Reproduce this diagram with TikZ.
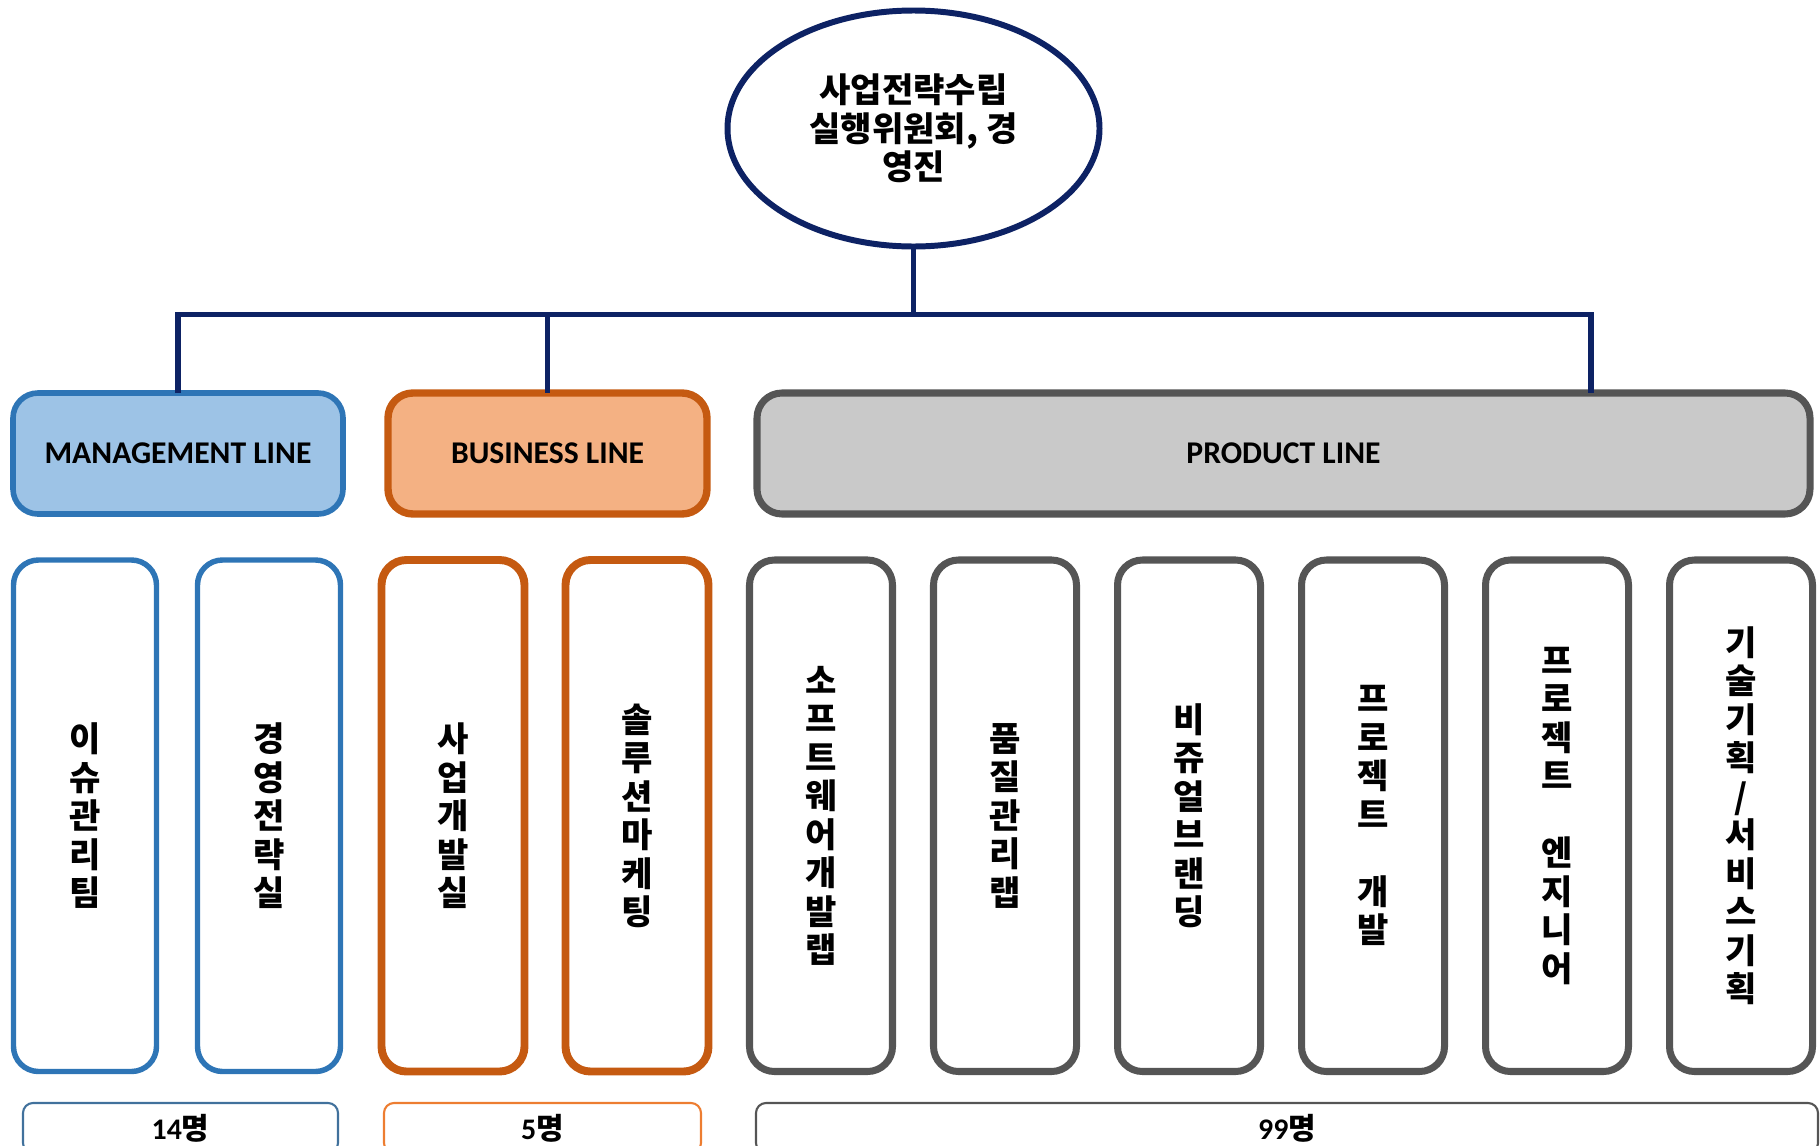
\documentclass[tikz,border=0pt]{standalone}
\usepackage{fontspec}
\setmainfont{Carlito}
\newfontfamily\ko{Noto Sans CJK KR}
\usetikzlibrary{shapes, positioning}
\definecolor{navy}{HTML}{0D2264}
\definecolor{mgmtblue}{HTML}{2E75B6}
\definecolor{mgmtfill}{HTML}{9DC3E6}
\definecolor{bizorange}{HTML}{C55A11}
\definecolor{bizfill}{HTML}{F4B183}
\definecolor{prodgray}{HTML}{555555}
\definecolor{prodfill}{HTML}{C9C9C9}
\definecolor{mgmtline}{HTML}{41719C}
\definecolor{bizline}{HTML}{ED7D31}
\tikzstyle{committee} = [ellipse, minimum width=7.44cm, minimum height=4.72cm, inner sep=0pt, draw=navy, line width=3.4pt, fill=white, align=center, font=\ko\bfseries\fontsize{19.4}{21.8}\selectfont]
\tikzstyle{head} = [rectangle, rounded corners=0.5cm, minimum height=2.42cm, outer sep=0pt, font=\bfseries\fontsize{18}{21}\selectfont]
\tikzstyle{mgmthead} = [head, minimum width=6.6cm, draw=mgmtblue, fill=mgmtfill, line width=3.2pt]
\tikzstyle{bizhead} = [head, minimum width=6.38cm, draw=bizorange, fill=bizfill, line width=4.2pt]
\tikzstyle{prodhead} = [head, minimum width=21.06cm, draw=prodgray, fill=prodfill, line width=4pt]
\tikzstyle{team} = [rectangle, rounded corners=0.5cm, minimum width=2.86cm, minimum height=10.23cm, outer sep=0pt, fill=white, align=center, font=\ko\bfseries\fontsize{19.4}{21.9}\selectfont]
\tikzstyle{mgmtteam} = [team, draw=mgmtblue, line width=3.1pt]
\tikzstyle{bizteam} = [team, draw=bizorange, line width=4.5pt]
\tikzstyle{prodteam} = [team, draw=prodgray, line width=4pt]
\tikzstyle{headcount} = [rectangle, rounded corners=0.2cm, minimum height=1cm, outer sep=0pt, line width=1.2pt, font=\bfseries\fontsize{17}{19}\selectfont]
\tikzstyle{wire} = [draw=navy, line width=3.4pt]

\begin{document}
\begin{tikzpicture}
\clip (0,0) rectangle (36.4,-22.92);
\node (board) [committee] at (18.27,-2.57) {사업전략수립\\실행위원회, 경\\영진};
\node (mgmt) [mgmthead] at (3.56,-9.07) {MANAGEMENT LINE};
\node (biz) [bizhead, right=0.9cm of mgmt] {BUSINESS LINE};
\node (prod) [prodhead, right=1cm of biz] {PRODUCT LINE};
\coordinate (hub) at (18.27,-6.29);
\coordinate (pdrop) at (31.82,-6.29);
\draw[wire] (board.south) -- (hub);
\draw[wire] (mgmt.north) -- (mgmt.north |- hub) -- (pdrop) -- (prod.north -| pdrop);
\draw[wire] (biz.north) -- (biz.north |- hub);
\node (issue) [mgmtteam] at (1.70,-16.315) {이\\슈\\관\\리\\팀};
\node (strategy) [mgmtteam, right=0.82cm of issue] {경\\영\\전\\략\\실};
\node (bizdev) [bizteam, right=0.82cm of strategy] {사\\업\\개\\발\\실};
\node (marketing) [bizteam, right=0.82cm of bizdev] {솔\\루\\션\\마\\케\\팅};
\node (swlab) [prodteam, right=0.82cm of marketing] {소\\프\\트\\웨\\어\\개\\발\\랩};
\node (qalab) [prodteam, right=0.82cm of swlab] {품\\질\\관\\리\\랩};
\node (brand) [prodteam, right=0.82cm of qalab] {비\\쥬\\얼\\브\\랜\\딩};
\node (projdev) [prodteam, right=0.82cm of brand] {프\\로\\젝\\트\\~\\개\\발};
\node (projeng) [prodteam, right=0.82cm of projdev] {프\\로\\젝\\트\\~\\엔\\지\\니\\어};
\node (service) [prodteam, right=0.82cm of projeng] {기\\술\\기\\획\\/\\서\\비\\스\\기\\획};
\node (mcount) [headcount, draw=mgmtline, minimum width=6.3cm] at (3.61,-22.56) {14{\ko 명}};
\node (bcount) [headcount, draw=bizline, minimum width=6.34cm, right=0.92cm of mcount] {5{\ko 명}};
\node (pcount) [headcount, draw=prodgray, minimum width=21.24cm, right=1.1cm of bcount] {99{\ko 명}};
\end{tikzpicture}
\end{document}
